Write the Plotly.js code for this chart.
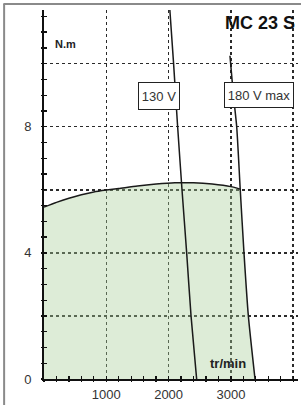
<!DOCTYPE html>
<html>
<head>
<meta charset="utf-8">
<script src="https://cdn.plot.ly/plotly-3.0.1.min.js"></script>
<style>html,body{margin:0;padding:0;background:#fff;}#chart{width:301px;height:405px;}</style>
</head>
<body>
<div id="chart"></div>
<script>
// Torque curve (N.m vs tr/min)
const torqueX = [0, 200, 400, 600, 800, 1000, 1200, 1500, 1800, 2100, 2400, 2700, 3000, 3150];
const torqueY = [5.45, 5.6, 5.73, 5.84, 5.93, 5.99, 6.04, 6.12, 6.18, 6.22, 6.22, 6.18, 6.1, 6.02];
// 130 V limit line
const v130X = [2020, 2080, 2145, 2215, 2290, 2360, 2450];
const v130Y = [11.7, 10, 8, 6, 4, 2, 0];
// 180 V max limit line
const v180X = [2985, 3040, 3093, 3150, 3210, 3280, 3387];
const v180Y = [10.25, 9, 8, 6, 4, 2, 0];
// ticks
const xTickVals = [0, 1000, 2000, 3000, 4000];
const xTickText = ['', '1000', '2000', '3000', ''];
const yTickVals = [0, 2, 4, 6, 8, 10];
const yTickText = ['0', '', '4', '', '8', ''];
// labels
const title = 'MC 23 S';
const yUnit = 'N.m';
const xUnit = 'tr/min';
const lbl130 = '130 V';
const lbl180 = '180 V max';

// fill region: torque curve then down the 180 V line
const fillX = torqueX.concat(v180X.filter((x, i) => v180Y[i] < torqueY[torqueY.length - 1]));
const fillY = torqueY.concat(v180Y.filter(y => y < torqueY[torqueY.length - 1]));

const lineStyle = {color: '#1a1a1a', width: 1.5, shape: 'spline', smoothing: 0.6};

const traces = [
  {x: fillX, y: fillY, type: 'scatter', mode: 'lines', fill: 'tozeroy',
   fillcolor: 'rgba(165,205,150,0.38)', line: {width: 0}, hoverinfo: 'skip'},
  {x: torqueX, y: torqueY, type: 'scatter', mode: 'lines', line: lineStyle},
  {x: v130X, y: v130Y, type: 'scatter', mode: 'lines', line: lineStyle},
  {x: v180X, y: v180Y, type: 'scatter', mode: 'lines', line: lineStyle},
  // empty trace to activate the overlay axes (outer half of the crossing ticks)
  {x: [], y: [], type: 'scatter', mode: 'lines', xaxis: 'x2', yaxis: 'y2', hoverinfo: 'skip'}
];

const gridStyle = {showgrid: true, gridcolor: '#2a2a2a', gridwidth: 1.5, griddash: '3px,3px'};
const font = {family: 'Arial, Liberation Sans, sans-serif', size: 13, color: '#333'};
const tickCol = '#111';

const layout = {
  width: 301, height: 405,
  margin: {l: 44, r: 3, t: 10, b: 26, pad: 0},
  paper_bgcolor: '#fff', plot_bgcolor: '#fff',
  showlegend: false,
  font: font,
  xaxis: Object.assign({
    range: [0, 4077], tickvals: xTickVals, ticktext: xTickText,
    ticks: 'inside', ticklen: 3, tickwidth: 1.3, tickcolor: tickCol,
    minor: {dtick: 200, ticks: 'inside', ticklen: 3, tickwidth: 1.3, tickcolor: tickCol, showgrid: false},
    showline: true, linecolor: '#111', linewidth: 1.5, zeroline: false,
    ticklabelstandoff: 3, tickfont: font, fixedrange: true
  }, gridStyle),
  yaxis: Object.assign({
    range: [0, 11.7], tickvals: yTickVals, ticktext: yTickText,
    ticks: 'inside', ticklen: 3, tickwidth: 1.3, tickcolor: tickCol,
    minor: {dtick: 0.5, ticks: 'inside', ticklen: 3, tickwidth: 1.3, tickcolor: tickCol, showgrid: false},
    showline: true, linecolor: '#111', linewidth: 2, zeroline: false,
    ticklabelstandoff: 8, tickfont: font, fixedrange: true
  }, gridStyle),
  xaxis2: {
    overlaying: 'x', anchor: 'y2', side: 'bottom', range: [0, 4077],
    tickvals: xTickVals, ticktext: ['', '', '', '', ''], ticks: 'outside', ticklen: 2, tickwidth: 1.3, tickcolor: tickCol,
    minor: {dtick: 200, ticks: 'outside', ticklen: 2, tickwidth: 1.3, tickcolor: tickCol, showgrid: false},
    showgrid: false, showline: false, zeroline: false, showticklabels: false, fixedrange: true
  },
  yaxis2: {
    overlaying: 'y', anchor: 'x2', side: 'left', range: [0, 11.7],
    tickvals: yTickVals, ticks: 'outside', ticklen: 2, tickwidth: 1.3, tickcolor: tickCol,
    minor: {dtick: 0.5, ticks: 'outside', ticklen: 2, tickwidth: 1.3, tickcolor: tickCol, showgrid: false},
    showgrid: false, showline: false, zeroline: false, showticklabels: false, fixedrange: true
  },
  shapes: [
    {type: 'line', xref: 'paper', yref: 'paper', x0: -0.157, x1: -0.157, y0: -0.1, y1: 1.016,
     line: {color: '#8a8a8a', width: 2}},
    {type: 'line', xref: 'paper', yref: 'paper', x0: -0.16, x1: 1.02, y0: 1.016, y1: 1.016,
     line: {color: '#8a8a8a', width: 2}}
  ],
  annotations: [
    {x: 3467, y: 11.28, xref: 'x', yref: 'y', text: '<b>' + title + '</b>', showarrow: false,
     font: {family: 'Arial, Liberation Sans, sans-serif', size: 18, color: '#111'}},
    {x: 337, y: 10.62, xref: 'x', yref: 'y', text: '<b>' + yUnit + '</b>', showarrow: false,
     font: {family: 'Arial, Liberation Sans, sans-serif', size: 11, color: '#222'}},
    {x: 2953, y: 0.48, xref: 'x', yref: 'y', text: '<b>' + xUnit + '</b>', showarrow: false,
     font: {family: 'Arial, Liberation Sans, sans-serif', size: 13, color: '#222'}},
    {x: 1846, y: 8.97, xref: 'x', yref: 'y', text: lbl130, showarrow: false,
     bgcolor: '#fff', bordercolor: '#222', borderwidth: 1, borderpad: 0, width: 40, height: 26,
     font: {family: 'Arial, Liberation Sans, sans-serif', size: 13, color: '#333'}},
    {x: 3451, y: 9.0, xref: 'x', yref: 'y', text: lbl180, showarrow: false,
     bgcolor: '#fff', bordercolor: '#222', borderwidth: 1, borderpad: 0, width: 68, height: 24,
     font: {family: 'Arial, Liberation Sans, sans-serif', size: 13, color: '#333'}}
  ]
};

Plotly.newPlot('chart', traces, layout, {staticPlot: true, displayModeBar: false});
</script>
</body>
</html>
